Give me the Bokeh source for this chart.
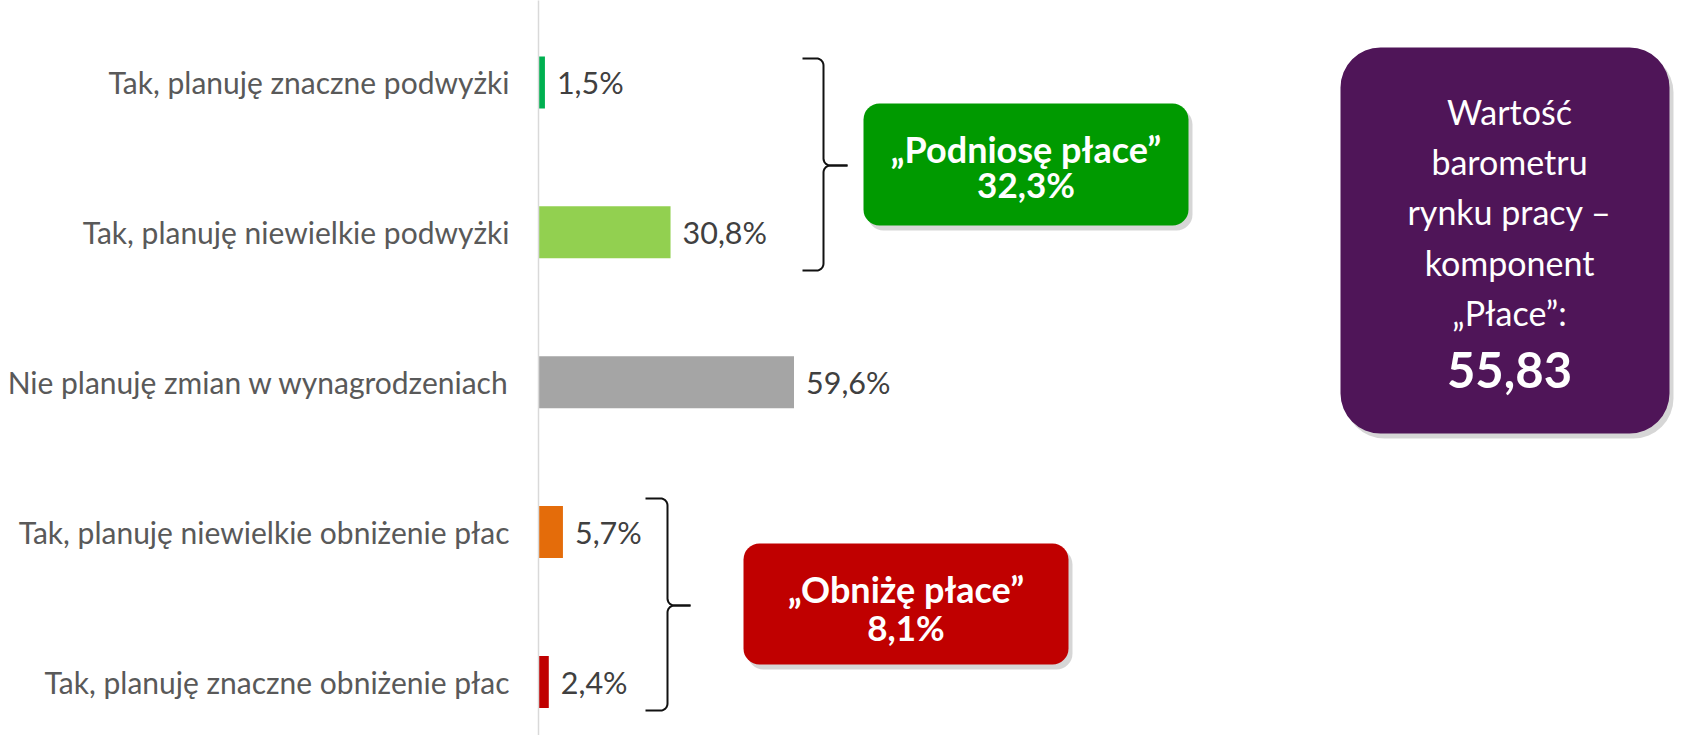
import math
from bokeh.plotting import figure
from bokeh.models import Range1d, FixedTicker, BoxAnnotation, Label, ColumnDataSource
from bokeh.core.properties import value
from bokeh.embed import file_html
from bokeh.resources import INLINE

# ---------------- data ----------------
categories = [
    "Tak, planuję znaczne podwyżki",
    "Tak, planuję niewielkie podwyżki",
    "Nie planuję zmian w wynagrodzeniach",
    "Tak, planuję niewielkie obniżenie płac",
    "Tak, planuję znaczne obniżenie płac",
]
values = [1.5, 30.8, 59.6, 5.7, 2.4]
colors = ["#00B050", "#92D050", "#A5A5A5", "#E46C0A", "#C00000"]
raise_title = "„Podniosę płace”"
cut_title = "„Obniżę płace”"
barometer_lines = ["Wartość", "barometru", "rynku pracy –", "komponent", "„Płace”:"]
barometer_value = "55,83"


def pct(v):
    return f"{v:.1f}".replace(".", ",") + "%"


# ---------------- layout constants ----------------
W, H = 1674, 735
LEFT = 538          # frame left (figure px)
XS = 4.287          # px per percent
YS = 149.9          # px per category step
Y_TOP = 5 + 81.9 / YS
FONT = "Lato"

n = len(categories)
ypos = [n - i for i in range(n)]


def dx(px):   # figure px -> data x
    return (px - LEFT) / XS


def dy(py):   # figure px -> data y
    return Y_TOP - py / YS


p = figure(width=W, height=H, output_backend="svg", toolbar_location=None,
           x_range=Range1d(0, (W - LEFT) / XS), y_range=Range1d(Y_TOP - H / YS, Y_TOP),
           min_border_left=LEFT, min_border_right=0, min_border_top=0, min_border_bottom=0,
           x_axis_location=None, y_axis_location="left")
p.grid.visible = False
p.outline_line_color = None
p.background_fill_color = "white"
p.border_fill_color = "white"

yax = p.yaxis[0]
yax.ticker = FixedTicker(ticks=ypos)
yax.major_label_overrides = {y: c for y, c in zip(ypos, categories)}
yax.axis_line_color = "#D9D9D9"
yax.axis_line_width = 1.5
yax.major_tick_line_color = None
yax.minor_tick_line_color = None
yax.major_label_text_font = FONT
yax.major_label_text_font_size = "30px"
yax.major_label_text_color = "#595959"
yax.major_label_standoff = 23

src = ColumnDataSource(dict(y=ypos, v=values, c=colors, lab=[pct(v) for v in values]))
p.hbar(y="y", left=0, right="v", height=52 / YS, fill_color="c", line_color=None, source=src)
p.text(x="v", y="y", text="lab", source=src, x_offset=12, text_baseline="middle",
       text_align="left", text_font=value(FONT), text_font_size="30.5px", text_color="#404040")


# ---------------- braces ----------------
def arc(cx, cy, r, a0, a1, k=10):
    return [(cx + r * math.cos(math.radians(a0 + (a1 - a0) * i / k)),
             cy + r * math.sin(math.radians(a0 + (a1 - a0) * i / k))) for i in range(k + 1)]


def brace(xl, xv, xt, yt, ym, yb, r=7):
    top = [(xl, yt)] + arc(xv - r, yt + r, r, -90, 0) + arc(xv + r, ym - r, r, 180, 90) + [(xt, ym)]
    bot = [(xt, ym)] + arc(xv + r, ym + r, r, 270, 180) + arc(xv - r, yb - r, r, 0, 90) + [(xl, yb)]
    xs = [[dx(a) for a, b in seg] for seg in (top, bot)]
    ys = [[dy(b) for a, b in seg] for seg in (top, bot)]
    p.multi_line(xs, ys, line_color="#111111", line_width=2)


brace(802, 823, 847, 58, 165, 270)
brace(645, 667, 690, 498, 605, 710)


# ---------------- boxes ----------------
def rbox(l, t, r, b, color, radius):
    p.add_layout(BoxAnnotation(left=dx(l + 4), right=dx(r + 4), top=dy(t + 5), bottom=dy(b + 5),
                               fill_color="black", fill_alpha=0.16, line_color=None,
                               border_radius=radius))
    p.add_layout(BoxAnnotation(left=dx(l), right=dx(r), top=dy(t), bottom=dy(b),
                               fill_color=color, fill_alpha=1.0, line_color=None,
                               border_radius=radius))


def lab(x, y, text, size, bold=False):
    p.add_layout(Label(x=dx(x), y=dy(y), text=text, text_align="center", text_baseline="middle",
                       text_color="white", text_font=FONT, text_font_size=f"{size}px",
                       text_font_style="bold" if bold else "normal"))


rbox(863, 103, 1188, 225, "#009A00", 16)
rbox(743, 543, 1068, 664, "#C00000", 16)
rbox(1340, 47, 1669, 433, "#4F1558", 40)

lab(1025.5, 148, raise_title, 36, True)
lab(1025.5, 183, pct(values[0] + values[1]), 35, True)
lab(905.5, 588, cut_title, 36, True)
lab(905.5, 626, pct(values[3] + values[4]), 35, True)

for i, t in enumerate(barometer_lines):
    lab(1509, [111, 161, 211, 262, 312][i], t, 34)
lab(1509, 369, barometer_value, 49, True)

open("out.html", "w").write(file_html(p, INLINE))
